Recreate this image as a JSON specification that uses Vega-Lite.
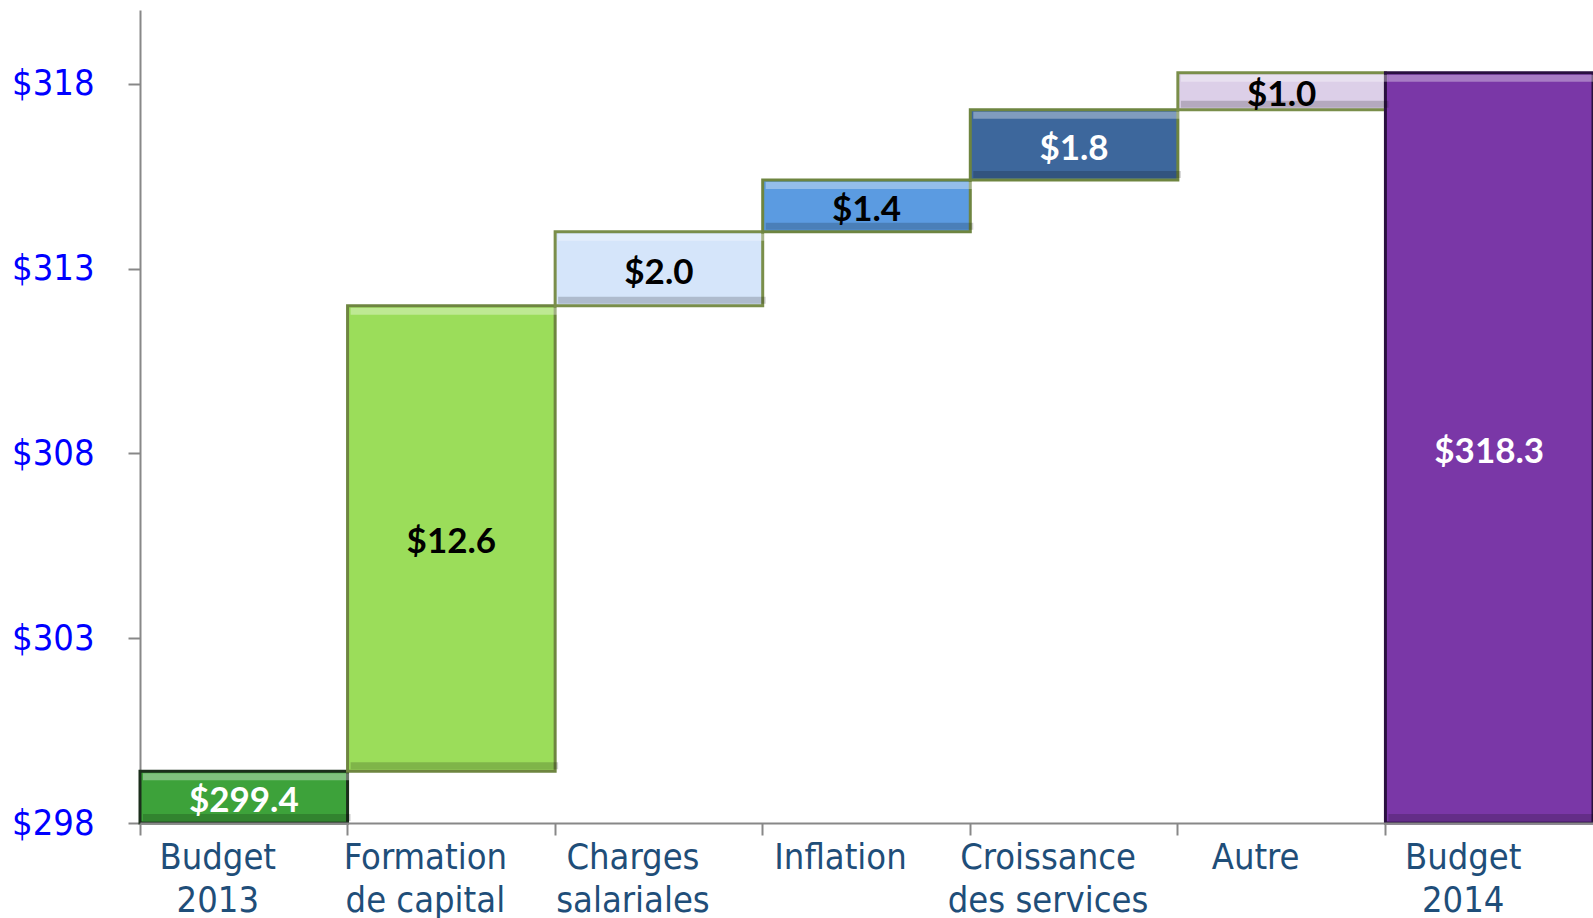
{
  "$schema": "https://vega.github.io/schema/vega-lite/v6.json",
  "autosize": {"type": "none"},
  "padding": {"left": 140, "top": 10, "right": 0, "bottom": 95},
  "width": 1453,
  "height": 813,
  "background": "white",
  "config": {"view": {"stroke": null}},
  "data": {
    "values": [
      {"cat": "Budget\n2013", "start": 298, "end": 299.4, "label": "$299.4"},
      {"cat": "Formation\nde capital", "start": 299.4, "end": 312.0, "label": "$12.6"},
      {"cat": "Charges\nsalariales", "start": 312.0, "end": 314.0, "label": "$2.0"},
      {"cat": "Inflation", "start": 314.0, "end": 315.4, "label": "$1.4"},
      {"cat": "Croissance\ndes services", "start": 315.4, "end": 317.3, "label": "$1.8"},
      {"cat": "Autre", "start": 317.3, "end": 318.3, "label": "$1.0"},
      {"cat": "Budget\n2014", "start": 298, "end": 318.3, "label": "$318.3"}
    ]
  },
  "transform": [{"calculate": "(datum.start + datum.end) / 2", "as": "mid"}],
  "encoding": {
    "x": {
      "field": "cat",
      "type": "nominal",
      "sort": null,
      "scale": {"paddingInner": 0, "paddingOuter": 0},
      "axis": {
        "title": null,
        "labelAngle": 0,
        "labelLimit": 0,
        "labelExpr": "split(datum.label, '\\n')",
        "labelFont": "DejaVu Sans Condensed",
        "labelFontSize": 36,
        "labelColor": "#1F4E79",
        "labelLineHeight": 43,
        "labelPadding": 5,
        "labelOffset": -26,
        "bandPosition": 0,
        "tickSize": 12,
        "tickWidth": 2,
        "tickColor": "#888888",
        "domainColor": "#888888",
        "domainWidth": 2,
        "zindex": 1
      }
    }
  },
  "layer": [
    {
      "mark": {"type": "bar", "strokeWidth": 3},
      "encoding": {
        "y": {
          "field": "start",
          "type": "quantitative",
          "scale": {"domain": [298, 320], "nice": false, "zero": false},
          "axis": {
            "title": null,
            "values": [298, 303, 308, 313, 318],
            "labelExpr": "'$' + datum.value",
            "labelFont": "DejaVu Sans Condensed",
            "labelFontSize": 36,
            "labelColor": "#0000FF",
            "labelPadding": 34,
            "tickSize": 12,
            "tickWidth": 2,
            "tickColor": "#888888",
            "domainColor": "#888888",
            "domainWidth": 2,
            "grid": false
          }
        },
        "y2": {"field": "end"},
        "fill": {
          "field": "cat",
          "type": "nominal",
          "sort": null,
          "legend": null,
          "scale": {
            "domain": ["Budget\n2013", "Formation\nde capital", "Charges\nsalariales", "Inflation", "Croissance\ndes services", "Autre", "Budget\n2014"],
            "range": ["#3DA23A", "#9BDD5A", "#D5E5FA", "#5B9BE1", "#3D679C", "#DCCFE8", "#7A37A7"]
          }
        },
        "stroke": {
          "field": "cat",
          "type": "nominal",
          "sort": null,
          "legend": null,
          "scale": {
            "domain": ["Budget\n2013", "Formation\nde capital", "Charges\nsalariales", "Inflation", "Croissance\ndes services", "Autre", "Budget\n2014"],
            "range": ["#1B2E1B", "#6E8540", "#7A8E4A", "#6E8540", "#6E8540", "#7A8E4A", "#2A1040"]
          }
        }
      }
    },
    {
      "mark": {"type": "bar", "fill": "white", "fillOpacity": 0.35, "y2Offset": 9, "xOffset": 3, "x2Offset": -3, "yOffset": 2},
      "encoding": {
        "y": {"field": "end", "type": "quantitative"},
        "y2": {"field": "end"}
      }
    },
    {
      "mark": {"type": "bar", "fill": "black", "fillOpacity": 0.18, "yOffset": -9, "xOffset": 3, "x2Offset": -3, "y2Offset": -2},
      "encoding": {
        "y": {"field": "start", "type": "quantitative"},
        "y2": {"field": "start"}
      }
    },
    {
      "mark": {"type": "text", "font": "Lato", "fontWeight": "bold", "fontSize": 35, "baseline": "middle", "align": "center", "dy": 4},
      "encoding": {
        "y": {"field": "mid", "type": "quantitative"},
        "text": {"field": "label"},
        "color": {
          "field": "cat",
          "type": "nominal",
          "sort": null,
          "legend": null,
          "scale": {
            "domain": ["Budget\n2013", "Formation\nde capital", "Charges\nsalariales", "Inflation", "Croissance\ndes services", "Autre", "Budget\n2014"],
            "range": ["#FFFFFF", "#000000", "#000000", "#000000", "#FFFFFF", "#000000", "#FFFFFF"]
          }
        }
      }
    }
  ]
}
